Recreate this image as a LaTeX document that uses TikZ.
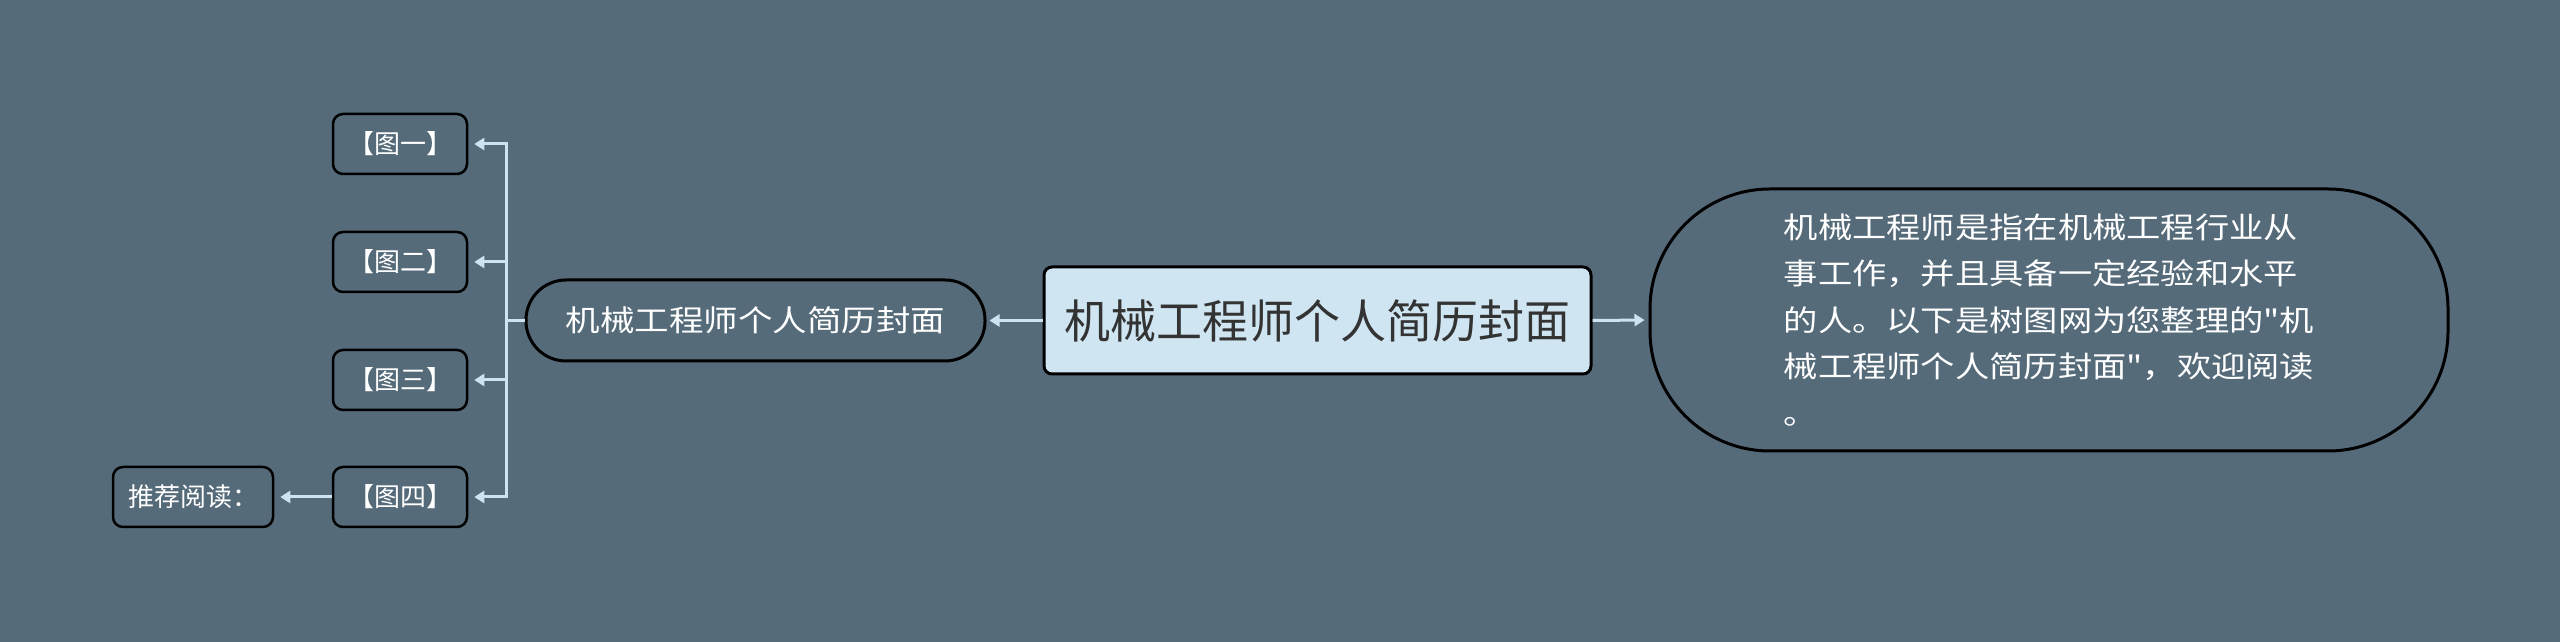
\documentclass[tikz,border=0pt]{standalone}
\usepackage{fontspec}
\usepackage{tikz}
\usetikzlibrary{arrows.meta}
\newfontfamily\cjk{Noto Sans CJK SC}
\newfontfamily\cjkwide[FakeStretch=1.17]{Noto Sans CJK SC}
\definecolor{fond}{HTML}{556B7A}
\definecolor{bleuracine}{HTML}{CFE6F2}
\definecolor{bleulien}{HTML}{CDE4F0}
\definecolor{gristexte}{HTML}{333333}

\begin{document}
\begin{tikzpicture}[x=1pt,y=1pt,
	fleche/.style={draw=bleulien,line width=3pt,-{Triangle[length=10pt,width=12pt]}},
	feuille/.style={draw=black,line width=2.5pt,fill=fond,rounded corners=10pt,
		minimum width=134pt,minimum height=60pt,inner sep=0pt,text=white,
		font=\cjk\fontsize{26}{30}\selectfont}]
%					Fond et cadre :
					\fill[fond] (0,0) rectangle (2560,642);
					\useasboundingbox (0,0) rectangle (2560,642);
%					Noeud central :
					\node[draw=black,line width=3pt,fill=bleuracine,rounded corners=8pt,
						minimum width=547pt,minimum height=107pt,inner sep=0pt,text=gristexte,
						font=\cjk\fontsize{46}{52}\selectfont] (racine) at (1317.5,321.5) {机械工程师个人简历封面};
%					Branche gauche :
					\node[draw=black,line width=3pt,fill=fond,rounded corners=40pt,
						minimum width=459pt,minimum height=81pt,inner sep=0pt,text=white,
						font=\cjkwide\fontsize{29.5}{36}\selectfont] (sous) at (755.5,321.5) {机械工程师个人简历封面};
%					Branche droite :
					\node[draw=black,line width=3pt,fill=fond,rounded corners=120pt,
						minimum width=798pt,minimum height=262pt,inner sep=0pt,text=white,align=left,
						font=\cjkwide\fontsize{29.3}{46.5}\selectfont] (resume) at (2049,322)
						{机械工程师是指在机械工程行业从\\事工作，并且具备一定经验和水平\\的人。以下是树图网为您整理的"机\\械工程师个人简历封面"，欢迎阅读\\。};
%					Feuilles :
					\node[feuille] (fig1) at (400,498) {【图一】};
					\node[feuille] (fig2) at (400,380) {【图二】};
					\node[feuille] (fig3) at (400,262) {【图三】};
					\node[feuille] (fig4) at (400,145) {【图四】};
					\node[feuille,minimum width=160pt] (lecture) at (193,145) {推荐阅读：};
%					Liens :
					\coordinate (barre) at (506,321.5);
					\draw[fleche,shorten >=3pt] (racine.west) -- (sous.east);
					\draw[fleche,shorten >=4pt] (racine.east) -- (resume.west);
					\draw[fleche,shorten >=6pt] (sous.west) -- (barre) |- (fig1.east);
					\draw[fleche,shorten >=6pt] (sous.west) -- (barre) |- (fig2.east);
					\draw[fleche,shorten >=6pt] (sous.west) -- (barre) |- (fig3.east);
					\draw[fleche,shorten >=6pt] (sous.west) -- (barre) |- (fig4.east);
					\draw[fleche,shorten >=6pt] (fig4.west) -- (lecture.east);
				\end{tikzpicture}
\end{document}
